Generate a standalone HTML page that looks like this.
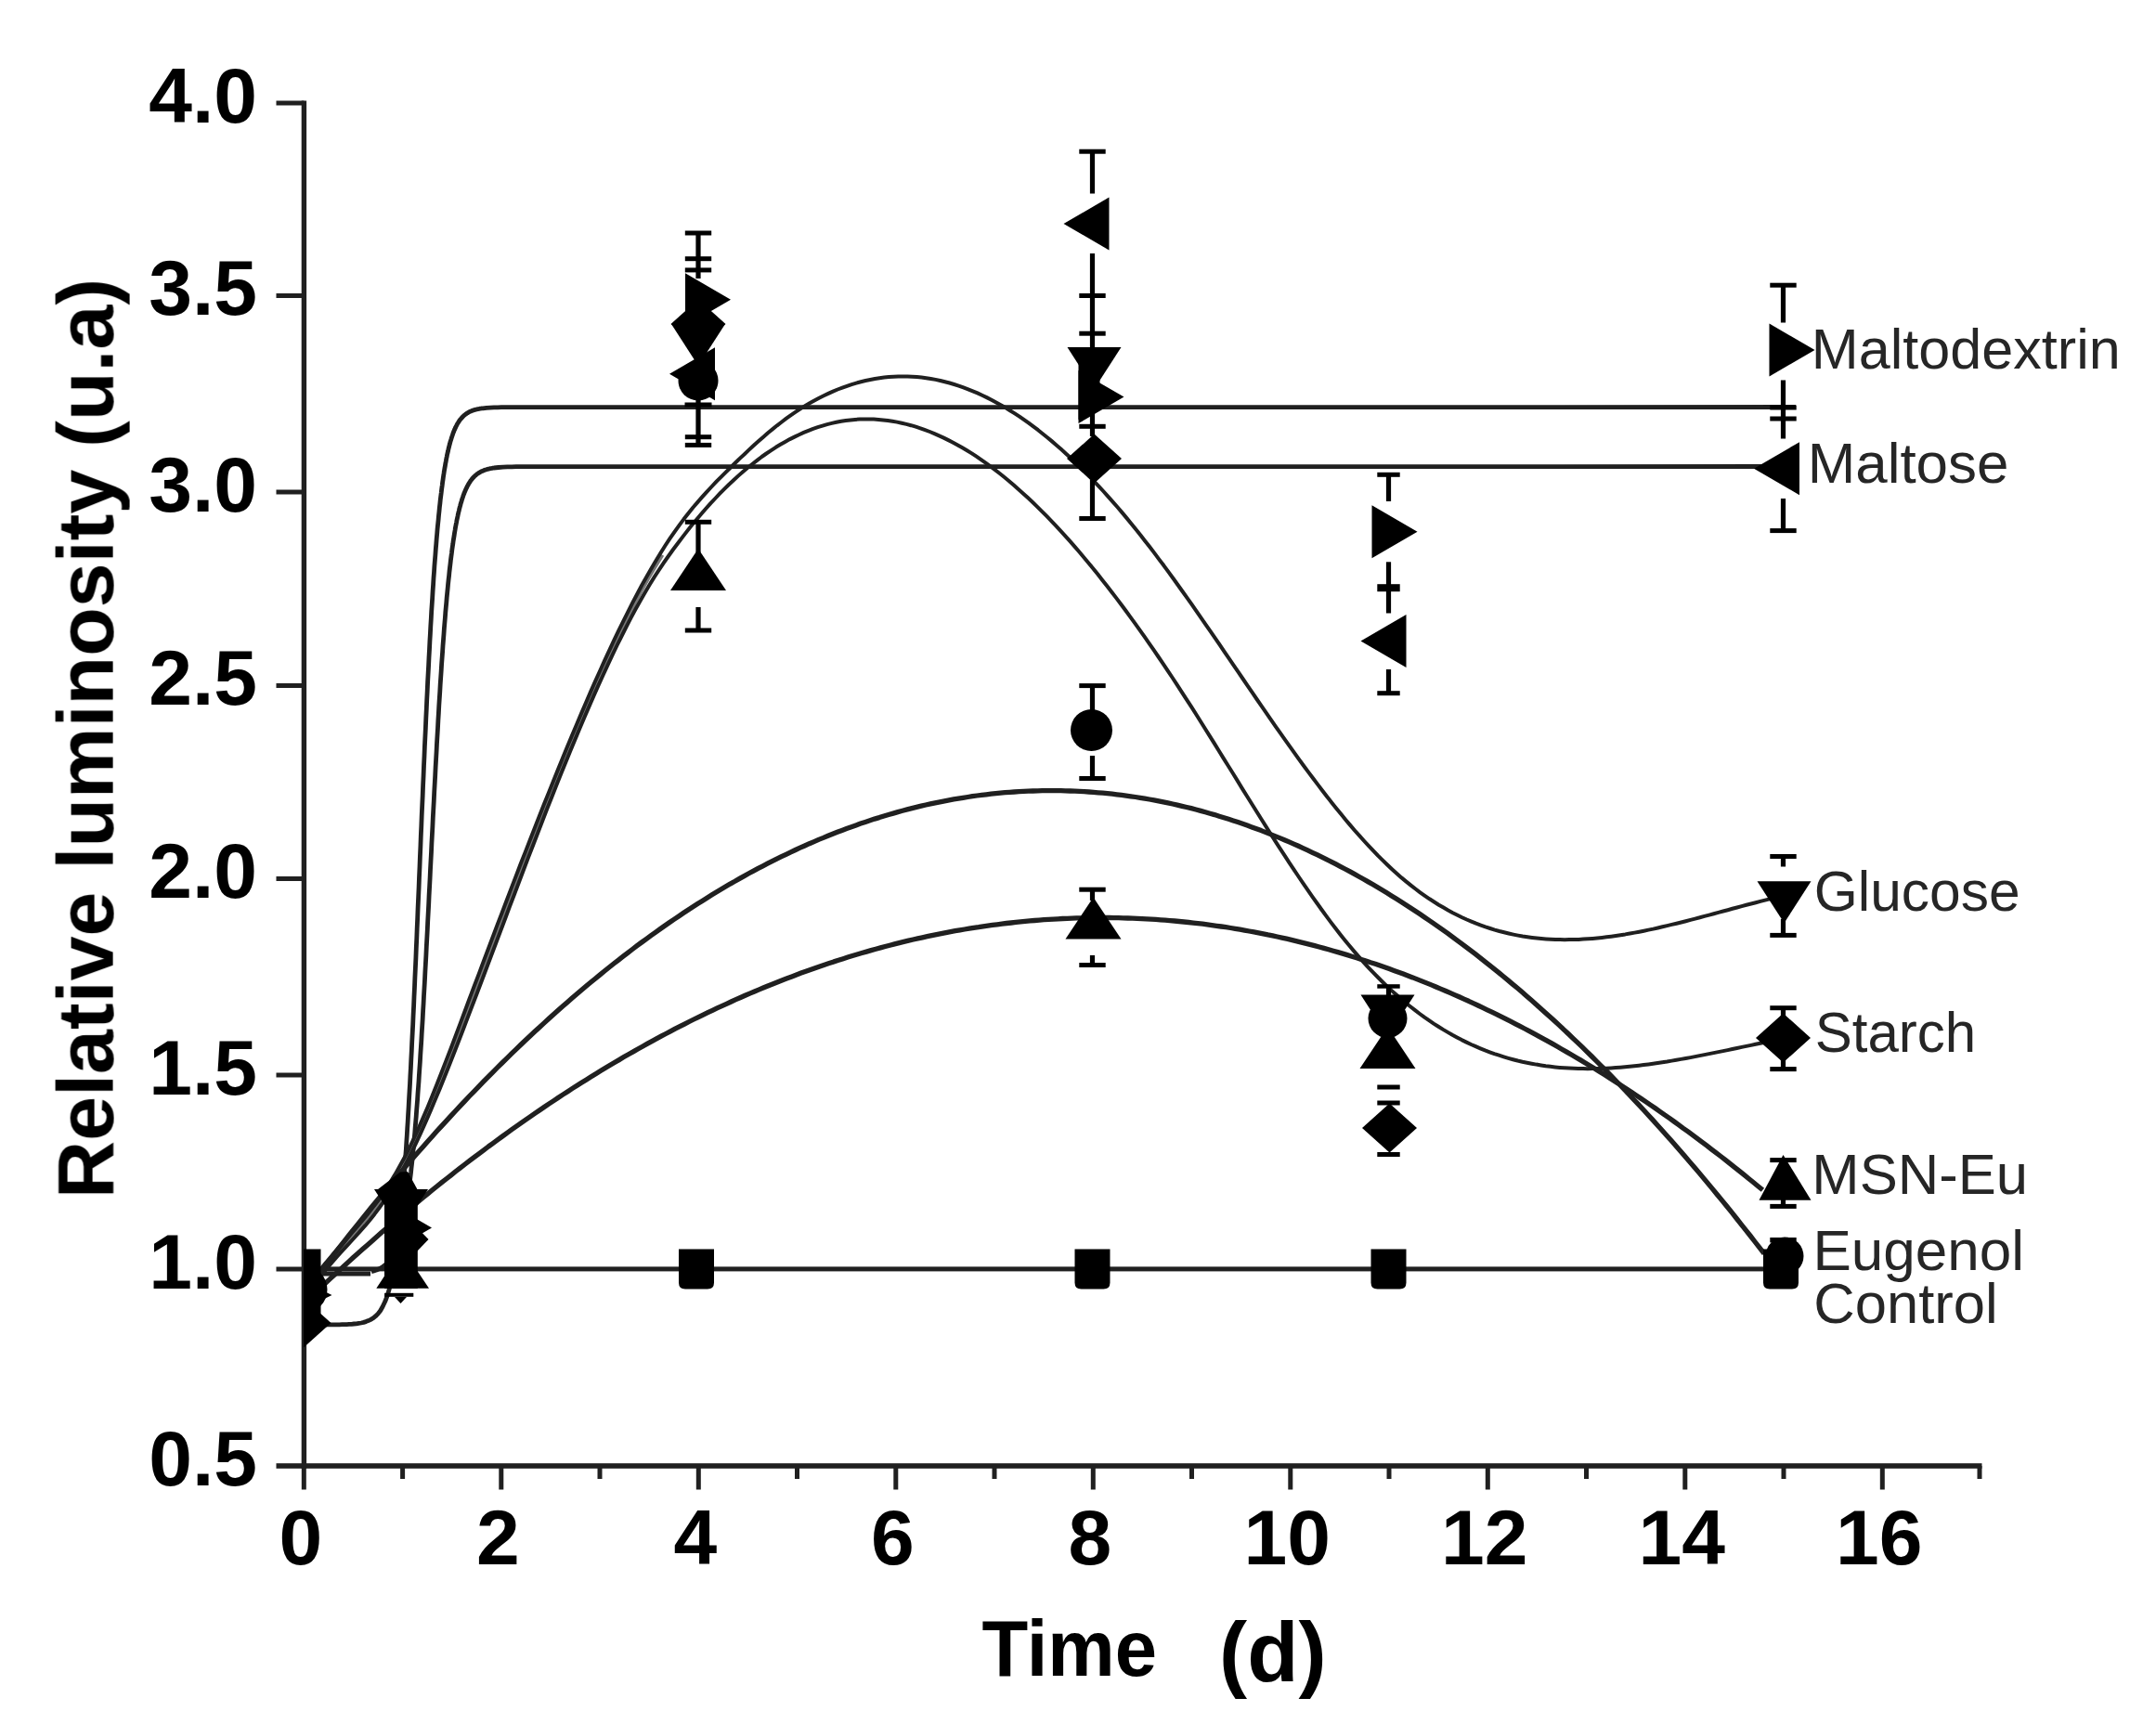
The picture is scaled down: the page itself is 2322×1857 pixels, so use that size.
<!DOCTYPE html>
<html lang="en">
<head>
<meta charset="utf-8">
<title>Relative luminosity vs time</title>
<style>
html,body{margin:0;padding:0;background:#fff;}
body{width:2322px;height:1857px;overflow:hidden;}
svg{display:block;}
</style>
</head>
<body>
<svg width="2322" height="1857" viewBox="0 0 2322 1857">
<rect width="2322" height="1857" fill="#fff"/>
<defs><filter id="soft" x="0" y="0" width="100%" height="100%" filterUnits="userSpaceOnUse" color-interpolation-filters="sRGB"><feGaussianBlur stdDeviation="0.75"/></filter></defs>
<g filter="url(#soft)">
<g fill="#202020">
<rect x="324.7" y="108.5" width="5.4" height="1473.5"/>
<rect x="297.5" y="1576.2" width="1837" height="5.6"/>
<rect x="297.5" y="108.5" width="30" height="5"/>
<rect x="297.5" y="316" width="30" height="5"/>
<rect x="297.5" y="527.5" width="30" height="5"/>
<rect x="297.5" y="736" width="30" height="5"/>
<rect x="297.5" y="944" width="30" height="5"/>
<rect x="297.5" y="1155.5" width="30" height="5"/>
<rect x="297.5" y="1364.5" width="30" height="5"/>
<rect x="324.8" y="1579" width="5" height="25.5"/>
<rect x="431.1" y="1579" width="5" height="14"/>
<rect x="537.3" y="1579" width="5" height="25.5"/>
<rect x="643.5" y="1579" width="5" height="14"/>
<rect x="749.8" y="1579" width="5" height="25.5"/>
<rect x="856" y="1579" width="5" height="14"/>
<rect x="962.3" y="1579" width="5" height="25.5"/>
<rect x="1068.5" y="1579" width="5" height="14"/>
<rect x="1174.8" y="1579" width="5" height="25.5"/>
<rect x="1281" y="1579" width="5" height="14"/>
<rect x="1387.3" y="1579" width="5" height="25.5"/>
<rect x="1493.5" y="1579" width="5" height="14"/>
<rect x="1599.8" y="1579" width="5" height="25.5"/>
<rect x="1706" y="1579" width="5" height="14"/>
<rect x="1812.3" y="1579" width="5" height="25.5"/>
<rect x="1918.5" y="1579" width="5" height="14"/>
<rect x="2024.8" y="1579" width="5" height="25.5"/>
<rect x="2129.5" y="1579" width="5" height="14"/>
</g>
<g font-family="'Liberation Sans', Arial, Helvetica, sans-serif" font-weight="bold" font-size="84" fill="#000">
<text x="277" y="131.5" text-anchor="end">4.0</text>
<text x="277" y="339" text-anchor="end">3.5</text>
<text x="277" y="550.5" text-anchor="end">3.0</text>
<text x="277" y="759" text-anchor="end">2.5</text>
<text x="277" y="967" text-anchor="end">2.0</text>
<text x="277" y="1178.5" text-anchor="end">1.5</text>
<text x="277" y="1387.5" text-anchor="end">1.0</text>
<text x="277" y="1599.5" text-anchor="end">0.5</text>
<text x="323.8" y="1685" text-anchor="middle">0</text>
<text x="536.3" y="1685" text-anchor="middle">2</text>
<text x="748.8" y="1685" text-anchor="middle">4</text>
<text x="961.3" y="1685" text-anchor="middle">6</text>
<text x="1173.8" y="1685" text-anchor="middle">8</text>
<text x="1386.3" y="1685" text-anchor="middle">10</text>
<text x="1598.8" y="1685" text-anchor="middle">12</text>
<text x="1811.3" y="1685" text-anchor="middle">14</text>
<text x="2023.8" y="1685" text-anchor="middle">16</text>
</g>
<g font-family="'Liberation Sans', Arial, Helvetica, sans-serif">
<text transform="translate(1057.44 1804.80) scale(0.9577 1)" font-size="85" font-weight="bold" fill="#000">Time</text>
<text transform="translate(1313.12 1810.50) scale(0.9949 1)" font-size="91" font-weight="bold" fill="#000">(d)</text>
<text transform="translate(121.60 1291.13) rotate(-90) scale(1.0140 1)" font-size="85" font-weight="bold" fill="#000">Relative luminosity (u.a)</text>
<text transform="translate(1950.75 396.60) scale(1.0108 1)" font-size="60.5" font-weight="normal" fill="#262626">Maltodextrin</text>
<text transform="translate(1946.68 520.20) scale(1.0233 1)" font-size="60.5" font-weight="normal" fill="#262626">Maltose</text>
<text transform="translate(1953.70 980.60) scale(1.0002 1)" font-size="60.5" font-weight="normal" fill="#262626">Glucose</text>
<text transform="translate(1954.67 1132.60) scale(0.9926 1)" font-size="60.5" font-weight="normal" fill="#262626">Starch</text>
<text transform="translate(1951.31 1285.50) scale(1.0187 1)" font-size="60.5" font-weight="normal" fill="#262626">MSN-Eu</text>
<text transform="translate(1952.47 1368.30) scale(1.0254 1)" font-size="60.5" font-weight="normal" fill="#262626">Eugenol</text>
<text transform="translate(1953.35 1424.70) scale(1.0176 1)" font-size="60.5" font-weight="normal" fill="#262626">Control</text>
</g>
<g>
<rect x="327" y="1364.4" width="1594" height="5" fill="#202020"/>
<rect x="345" y="1369.5" width="54" height="5" fill="#202020"/>
<path d="M345 1427 L347.6 1427 L350.2 1427 L352.8 1426.9 L355.3 1426.9 L357.9 1426.9 L360.5 1426.9 L363.1 1426.8 L365.7 1426.8 L368.3 1426.7 L370.9 1426.7 L373.4 1426.6 L376 1426.4 L378.6 1426.3 L381.2 1426 L383.8 1425.8 L386.4 1425.4 L389 1425 L391.6 1424.4 L394.1 1423.6 L396.7 1422.6 L399.3 1421.4 L401.9 1419.8 L404.5 1417.7 L407.1 1415.1 L409.7 1411.7 L412.2 1407.3 L414.8 1401.8 L417.4 1394.8 L420 1385.9 L420 1385.9 L420.5 1384.1 L420.9 1382.2 L421.4 1380.3 L421.8 1378.2 L422.3 1376.1 L422.7 1373.9 L423.2 1371.6 L423.7 1369.2 L424.1 1366.7 L424.6 1364.1 L425 1361.5 L425.5 1358.7 L425.9 1355.8 L426.4 1352.7 L426.8 1349.6 L427.3 1346.4 L427.8 1343 L428.2 1339.5 L428.7 1335.8 L429.1 1332.1 L429.6 1328.1 L430 1324.1 L430.5 1319.9 L431 1315.5 L431.4 1311 L431.9 1306.4 L432.3 1301.5 L432.8 1296.6 L433.2 1291.4 L433.7 1286.1 L434.2 1280.6 L434.6 1274.9 L435.1 1269.1 L435.5 1263 L436 1256.8 L436.4 1250.4 L436.9 1243.8 L437.4 1237.1 L437.8 1230.1 L438.3 1222.9 L438.7 1215.6 L439.2 1208.1 L439.6 1200.3 L440.1 1192.4 L440.5 1184.3 L441 1176 L441.5 1167.6 L441.9 1158.9 L442.4 1150.1 L442.8 1141.1 L443.3 1131.9 L443.7 1122.5 L444.2 1113 L444.7 1103.3 L445.1 1093.5 L445.6 1083.6 L446 1073.5 L446.5 1063.2 L446.9 1052.9 L447.4 1042.4 L447.9 1031.8 L448.3 1021.2 L448.8 1010.4 L449.2 999.6 L449.7 988.7 L450.1 977.8 L450.6 966.8 L451.1 955.7 L451.5 944.7 L452 933.6 L452.4 922.6 L452.9 911.5 L453.3 900.5 L453.8 889.5 L454.2 878.5 L454.7 867.6 L455.2 856.8 L455.6 846 L456.1 835.4 L456.5 824.8 L457 814.3 L457.4 803.9 L457.9 793.7 L458.4 783.6 L458.8 773.6 L459.3 763.7 L459.7 754 L460.2 744.5 L460.6 735.1 L461.1 725.9 L461.6 716.9 L462 708 L462.5 699.3 L462.9 690.8 L463.4 682.5 L463.8 674.4 L464.3 666.4 L464.7 658.7 L465.2 651.1 L465.7 643.7 L466.1 636.5 L466.6 629.5 L467 622.7 L467.5 616.1 L467.9 609.7 L468.4 603.4 L468.9 597.4 L469.3 591.5 L469.8 585.8 L470.2 580.3 L470.7 574.9 L471.1 569.8 L471.6 564.7 L472.1 559.9 L472.5 555.2 L473 550.7 L473.4 546.3 L473.9 542.1 L474.3 538 L474.8 534.1 L475.3 530.3 L475.7 526.6 L476.2 523.1 L476.6 519.7 L477.1 516.4 L477.5 513.3 L478 510.2 L478.4 507.3 L478.9 504.5 L479.4 501.8 L479.8 499.2 L480.3 496.7 L480.7 494.3 L481.2 492 L481.6 489.7 L482.1 487.6 L482.6 485.6 L483 483.6 L483.5 481.7 L483.9 479.9 L484.4 478.2 L484.8 476.5 L485.3 474.9 L485.8 473.4 L486.2 471.9 L486.7 470.5 L487.1 469.1 L487.6 467.8 L488 466.6 L488.5 465.4 L488.9 464.2 L489.4 463.1 L489.9 462.1 L490.3 461.1 L490.8 460.1 L491.2 459.2 L491.7 458.3 L492.1 457.4 L492.6 456.6 L493.1 455.8 L493.5 455.1 L494 454.4 L494.4 453.7 L494.9 453 L495.3 452.4 L495.8 451.8 L496.3 451.2 L496.7 450.7 L497.2 450.2 L497.6 449.7 L498.1 449.2 L498.5 448.7 L499 448.3 L499.5 447.8 L499.9 447.4 L500.4 447 L500.8 446.7 L501.3 446.3 L501.7 446 L502.2 445.7 L502.6 445.3 L503.1 445 L503.6 444.8 L504 444.5 L504.5 444.2 L504.9 444 L505.4 443.7 L505.8 443.5 L506.3 443.3 L506.8 443.1 L507.2 442.9 L507.7 442.7 L508.1 442.5 L508.6 442.3 L509 442.2 L509.5 442 L510 441.9 L510.4 441.7 L510.9 441.6 L511.3 441.4 L511.8 441.3 L512.2 441.2 L512.7 441.1 L513.2 441 L513.6 440.8 L514.1 440.7 L514.5 440.6 L515 440.6 L515.4 440.5 L515.9 440.4 L516.3 440.3 L516.8 440.2 L517.3 440.1 L517.7 440.1 L518.2 440 L518.6 439.9 L519.1 439.9 L519.5 439.8 L520 439.8 L520 439.8 L524 439.3 L528 439.1 L532 438.9 L536 438.8 L540 438.7 L1934 438.5" fill="none" stroke="#202020" stroke-width="4.8" stroke-linejoin="round" stroke-linecap="butt"/>
<path d="M400 1369.6 L402.7 1368.9 L405.5 1368 L408.2 1366.8 L410.9 1365.4 L413.6 1363.5 L416.4 1361.1 L419.1 1358 L421.8 1354 L424.5 1349 L427.3 1342.7 L430 1334.6 L430 1334.6 L430.5 1333 L430.9 1331.4 L431.4 1329.7 L431.9 1327.9 L432.3 1326.1 L432.8 1324.1 L433.3 1322.2 L433.7 1320.1 L434.2 1317.9 L434.7 1315.7 L435.1 1313.4 L435.6 1311 L436.1 1308.5 L436.5 1305.9 L437 1303.2 L437.5 1300.5 L437.9 1297.6 L438.4 1294.6 L438.8 1291.5 L439.3 1288.3 L439.8 1285 L440.2 1281.5 L440.7 1278 L441.2 1274.3 L441.6 1270.5 L442.1 1266.6 L442.6 1262.5 L443 1258.3 L443.5 1254 L444 1249.5 L444.4 1244.9 L444.9 1240.2 L445.4 1235.3 L445.8 1230.2 L446.3 1225 L446.8 1219.7 L447.2 1214.2 L447.7 1208.5 L448.2 1202.7 L448.6 1196.8 L449.1 1190.7 L449.6 1184.4 L450 1178 L450.5 1171.4 L451 1164.7 L451.4 1157.8 L451.9 1150.7 L452.4 1143.6 L452.8 1136.2 L453.3 1128.7 L453.8 1121.1 L454.2 1113.3 L454.7 1105.4 L455.2 1097.4 L455.6 1089.2 L456.1 1080.9 L456.5 1072.5 L457 1064 L457.5 1055.4 L457.9 1046.7 L458.4 1037.8 L458.9 1028.9 L459.3 1019.9 L459.8 1010.8 L460.3 1001.7 L460.7 992.5 L461.2 983.3 L461.7 974 L462.1 964.6 L462.6 955.3 L463.1 945.9 L463.5 936.6 L464 927.2 L464.5 917.8 L464.9 908.5 L465.4 899.2 L465.9 889.9 L466.3 880.6 L466.8 871.4 L467.3 862.3 L467.7 853.3 L468.2 844.3 L468.7 835.4 L469.1 826.6 L469.6 817.8 L470.1 809.2 L470.5 800.7 L471 792.3 L471.5 784.1 L471.9 775.9 L472.4 767.9 L472.8 760 L473.3 752.3 L473.8 744.7 L474.2 737.2 L474.7 729.9 L475.2 722.7 L475.6 715.7 L476.1 708.8 L476.6 702.1 L477 695.6 L477.5 689.2 L478 682.9 L478.4 676.8 L478.9 670.9 L479.4 665.1 L479.8 659.5 L480.3 654 L480.8 648.7 L481.2 643.5 L481.7 638.5 L482.2 633.6 L482.6 628.9 L483.1 624.3 L483.6 619.9 L484 615.6 L484.5 611.4 L485 607.3 L485.4 603.4 L485.9 599.6 L486.4 596 L486.8 592.5 L487.3 589 L487.8 585.7 L488.2 582.5 L488.7 579.5 L489.2 576.5 L489.6 573.6 L490.1 570.9 L490.5 568.2 L491 565.6 L491.5 563.1 L491.9 560.8 L492.4 558.5 L492.9 556.2 L493.3 554.1 L493.8 552 L494.3 550.1 L494.7 548.2 L495.2 546.3 L495.7 544.6 L496.1 542.9 L496.6 541.3 L497.1 539.7 L497.5 538.2 L498 536.7 L498.5 535.3 L498.9 534 L499.4 532.7 L499.9 531.5 L500.3 530.3 L500.8 529.2 L501.3 528.1 L501.7 527 L502.2 526 L502.7 525.1 L503.1 524.1 L503.6 523.2 L504.1 522.4 L504.5 521.6 L505 520.8 L505.5 520 L505.9 519.3 L506.4 518.6 L506.8 517.9 L507.3 517.3 L507.8 516.7 L508.2 516.1 L508.7 515.5 L509.2 515 L509.6 514.5 L510.1 514 L510.6 513.5 L511 513 L511.5 512.6 L512 512.2 L512.4 511.8 L512.9 511.4 L513.4 511 L513.8 510.6 L514.3 510.3 L514.8 510 L515.2 509.7 L515.7 509.4 L516.2 509.1 L516.6 508.8 L517.1 508.5 L517.6 508.3 L518 508 L518.5 507.8 L519 507.6 L519.4 507.4 L519.9 507.2 L520.4 507 L520.8 506.8 L521.3 506.6 L521.8 506.4 L522.2 506.3 L522.7 506.1 L523.2 506 L523.6 505.8 L524.1 505.7 L524.5 505.5 L525 505.4 L525.5 505.3 L525.9 505.2 L526.4 505.1 L526.9 505 L527.3 504.8 L527.8 504.7 L528.3 504.7 L528.7 504.6 L529.2 504.5 L529.7 504.4 L530.1 504.3 L530.6 504.2 L531.1 504.2 L531.5 504.1 L532 504 L532 504 L536.8 503.5 L541.6 503.1 L546.4 502.9 L551.2 502.8 L556 502.7 L1900 502.5" fill="none" stroke="#202020" stroke-width="4.8" stroke-linejoin="round" stroke-linecap="butt"/>
<path d="M364.3 1348.7 L369.4 1342.8 L374.6 1336.9 L379.7 1331.1 L384.9 1325.1 L390 1319.1 L395.1 1312.9 L400.3 1306.4 L405.4 1299.8 L410.5 1292.7 L415.7 1285.3 L420.8 1277.5 L425.9 1269.2 L431.1 1260.4 L436.2 1251 L441.4 1241 L446.5 1230.4 L451.6 1219.2 L456.8 1207.6 L461.9 1195.5 L467.1 1183 L472.2 1170.2 L477.3 1157.2 L482.5 1143.9 L487.6 1130.4 L492.7 1116.8 L497.9 1103.2 L503 1089.5 L508.1 1075.9 L513.3 1062.2 L518.4 1048.6 L523.6 1035.1 L528.7 1021.5 L533.8 1008 L539 994.6 L544.1 981.1 L549.2 967.8 L554.4 954.4 L559.5 941.2 L564.7 928 L569.8 914.8 L574.9 901.7 L580.1 888.7 L585.2 875.7 L590.3 862.8 L595.5 850 L600.6 837.3 L605.8 824.6 L610.9 812.1 L616 799.6 L621.2 787.3 L626.3 775 L631.5 762.9 L636.6 750.9 L641.7 739.1 L646.9 727.5 L652 716 L657.1 704.7 L662.3 693.7 L667.4 682.8 L672.5 672.3 L677.7 661.9 L682.8 651.8 L688 642.1 L693.1 632.6 L698.2 623.4 L703.4 614.5 L708.5 606 L713.6 597.9" fill="none" stroke="#777" stroke-width="3.6" stroke-linejoin="round" stroke-linecap="butt"/>
<path d="M340 1374.2 L345 1367.6 L350 1361.3 L355.1 1355.2 L360.1 1349.3 L365.1 1343.6 L370.1 1337.9 L375.1 1332.2 L380.2 1326.5 L385.2 1320.7 L390.2 1314.8 L395.2 1308.7 L400.2 1302.3 L405.2 1295.7 L410.3 1288.7 L415.3 1281.4 L420.3 1273.6 L425.3 1265.4 L430.3 1256.6 L435.4 1247.3 L440.4 1237.5 L445.4 1227 L450.4 1216.1 L455.4 1204.6 L460.5 1192.8 L465.5 1180.6 L470.5 1168.1 L475.5 1155.3 L480.5 1142.4 L485.6 1129.2 L490.6 1115.9 L495.6 1102.6 L500.6 1089.2 L505.6 1075.8 L510.6 1062.5 L515.7 1049.1 L520.7 1035.8 L525.7 1022.5 L530.7 1009.2 L535.7 995.9 L540.8 982.7 L545.8 969.5 L550.8 956.4 L555.8 943.4 L560.8 930.3 L565.9 917.4 L570.9 904.5 L575.9 891.7 L580.9 878.9 L585.9 866.3 L591 853.7 L596 841.2 L601 828.8 L606 816.5 L611 804.3 L616 792.2 L621.1 780.2 L626.1 768.4 L631.1 756.7 L636.1 745.1 L641.1 733.7 L646.2 722.5 L651.2 711.4 L656.2 700.6 L661.2 689.9 L666.2 679.4 L671.3 669.1 L676.3 659.1 L681.3 649.2 L686.3 639.7 L691.3 630.3 L696.4 621.3 L701.4 612.5 L706.4 604 L711.4 595.7 L716.4 587.8 L721.4 580.2 L726.5 572.8 L731.5 565.8 L736.5 559.1 L741.5 552.7 L746.5 546.5 L751.6 540.6 L756.6 534.9 L761.6 529.3 L766.6 524 L771.6 518.7 L776.7 513.6 L781.7 508.6 L786.7 503.7 L791.7 498.8 L796.7 493.9 L801.8 489.2 L806.8 484.4 L811.8 479.8 L816.8 475.3 L821.8 470.9 L826.8 466.5 L831.9 462.4 L836.9 458.3 L841.9 454.5 L846.9 450.7 L851.9 447.1 L857 443.7 L862 440.4 L867 437.3 L872 434.3 L877 431.5 L882.1 428.8 L887.1 426.3 L892.1 423.9 L897.1 421.6 L902.1 419.5 L907.2 417.6 L912.2 415.8 L917.2 414.1 L922.2 412.6 L927.2 411.2 L932.2 410 L937.3 409 L942.3 408 L947.3 407.2 L952.3 406.6 L957.3 406.1 L962.4 405.7 L967.4 405.5 L972.4 405.5 L977.4 405.5 L982.4 405.7 L987.5 406.1 L992.5 406.6 L997.5 407.2 L1002.5 408 L1007.5 408.9 L1012.6 410 L1017.6 411.2 L1022.6 412.5 L1027.6 414 L1032.6 415.6 L1037.6 417.4 L1042.7 419.3 L1047.7 421.3 L1052.7 423.4 L1057.7 425.7 L1062.7 428.1 L1067.8 430.7 L1072.8 433.4 L1077.8 436.2 L1082.8 439.1 L1087.8 442.2 L1092.9 445.4 L1097.9 448.7 L1102.9 452.2 L1107.9 455.7 L1112.9 459.4 L1118 463.2 L1123 467.2 L1128 471.2 L1133 475.4 L1138 479.7 L1143 484.1 L1148.1 488.7 L1153.1 493.3 L1158.1 498.1 L1163.1 502.9 L1168.1 507.9 L1173.2 513 L1178.2 518.3 L1183.2 523.6 L1188.2 529 L1193.2 534.6 L1198.3 540.3 L1203.3 546 L1208.3 551.9 L1213.3 557.9 L1218.3 564 L1223.4 570.2 L1228.4 576.5 L1233.4 582.9 L1238.4 589.3 L1243.4 595.9 L1248.4 602.6 L1253.5 609.3 L1258.5 616.2 L1263.5 623 L1268.5 630 L1273.5 637 L1278.6 644.1 L1283.6 651.2 L1288.6 658.4 L1293.6 665.6 L1298.6 672.8 L1303.7 680.1 L1308.7 687.4 L1313.7 694.7 L1318.7 702.1 L1323.7 709.4 L1328.8 716.8 L1333.8 724.2 L1338.8 731.5 L1343.8 738.9 L1348.8 746.2 L1353.8 753.5 L1358.9 760.8 L1363.9 768.1 L1368.9 775.4 L1373.9 782.6 L1378.9 789.7 L1384 796.8 L1389 803.9 L1394 810.9 L1399 817.9 L1404 824.7 L1409.1 831.6 L1414.1 838.3 L1419.1 844.9 L1424.1 851.5 L1429.1 858 L1434.2 864.4 L1439.2 870.7 L1444.2 876.8 L1449.2 882.9 L1454.2 888.9 L1459.2 894.7 L1464.3 900.4 L1469.3 906 L1474.3 911.4 L1479.3 916.7 L1484.3 921.9 L1489.4 926.9 L1494.4 931.8 L1499.4 936.5 L1504.4 941 L1509.4 945.4 L1514.5 949.6 L1519.5 953.6 L1524.5 957.5 L1529.5 961.3 L1534.5 964.8 L1539.6 968.3 L1544.6 971.5 L1549.6 974.7 L1554.6 977.6 L1559.6 980.5 L1564.6 983.2 L1569.7 985.7 L1574.7 988.2 L1579.7 990.5 L1584.7 992.6 L1589.7 994.7 L1594.8 996.6 L1599.8 998.4 L1604.8 1000 L1609.8 1001.6 L1614.8 1003 L1619.9 1004.3 L1624.9 1005.5 L1629.9 1006.6 L1634.9 1007.6 L1639.9 1008.5 L1645 1009.3 L1650 1010 L1655 1010.6 L1660 1011.1 L1665 1011.5 L1670 1011.8 L1675.1 1012 L1680.1 1012.1 L1685.1 1012.2 L1690.1 1012.1 L1695.1 1012 L1700.2 1011.9 L1705.2 1011.6 L1710.2 1011.3 L1715.2 1010.9 L1720.2 1010.4 L1725.3 1009.9 L1730.3 1009.3 L1735.3 1008.7 L1740.3 1008 L1745.3 1007.2 L1750.4 1006.4 L1755.4 1005.5 L1760.4 1004.6 L1765.4 1003.7 L1770.4 1002.7 L1775.4 1001.6 L1780.5 1000.6 L1785.5 999.5 L1790.5 998.3 L1795.5 997.1 L1800.5 995.9 L1805.6 994.7 L1810.6 993.5 L1815.6 992.2 L1820.6 990.9 L1825.6 989.6 L1830.7 988.3 L1835.7 986.9 L1840.7 985.6 L1845.7 984.3 L1850.7 982.9 L1855.8 981.5 L1860.8 980.2 L1865.8 978.8 L1870.8 977.5 L1875.8 976.1 L1880.8 974.8 L1885.9 973.5 L1890.9 972.2 L1895.9 970.9 L1900.9 969.6 L1905.9 968.4 L1911 967.2 L1916 966 L1921 964.8" fill="none" stroke="#202020" stroke-width="4.0" stroke-linejoin="round" stroke-linecap="butt"/>
<path d="M343 1377.9 L348 1371.3 L353.1 1365.1 L358.1 1359.2 L363.1 1353.4 L368.1 1347.9 L373.2 1342.4 L378.2 1337 L383.2 1331.5 L388.2 1325.9 L393.3 1320.2 L398.3 1314.2 L403.3 1307.9 L408.3 1301.2 L413.4 1294.1 L418.4 1286.5 L423.4 1278.4 L428.4 1269.7 L433.5 1260.5 L438.5 1250.9 L443.5 1240.8 L448.5 1230.3 L453.6 1219.4 L458.6 1208.1 L463.6 1196.6 L468.6 1184.7 L473.7 1172.6 L478.7 1160.2 L483.7 1147.7 L488.7 1134.9 L493.8 1122 L498.8 1109 L503.8 1095.9 L508.8 1082.8 L513.9 1069.5 L518.9 1056.3 L523.9 1043 L528.9 1029.7 L534 1016.3 L539 1003 L544 989.7 L549 976.3 L554.1 963 L559.1 949.8 L564.1 936.5 L569.1 923.3 L574.2 910.2 L579.2 897.2 L584.2 884.2 L589.2 871.3 L594.3 858.5 L599.3 845.8 L604.3 833.3 L609.4 820.8 L614.4 808.5 L619.4 796.4 L624.4 784.4 L629.5 772.5 L634.5 760.9 L639.5 749.4 L644.5 738.1 L649.6 727 L654.6 716.1 L659.6 705.5 L664.6 695 L669.7 684.8 L674.7 674.9 L679.7 665.2 L684.7 655.8 L689.8 646.7 L694.8 637.9 L699.8 629.5 L704.8 621.4 L709.9 613.7 L714.9 606.2 L719.9 599 L724.9 592 L730 585.2 L735 578.6 L740 572.1 L745 565.8 L750.1 559.7 L755.1 553.8 L760.1 548 L765.1 542.4 L770.2 537 L775.2 531.7 L780.2 526.6 L785.2 521.7 L790.3 517 L795.3 512.4 L800.3 508 L805.3 503.7 L810.4 499.7 L815.4 495.8 L820.4 492 L825.4 488.5 L830.5 485.1 L835.5 481.8 L840.5 478.8 L845.5 475.9 L850.6 473.1 L855.6 470.6 L860.6 468.2 L865.6 465.9 L870.7 463.8 L875.7 461.9 L880.7 460.2 L885.8 458.6 L890.8 457.1 L895.8 455.9 L900.8 454.8 L905.9 453.8 L910.9 453 L915.9 452.4 L920.9 451.9 L926 451.6 L931 451.5 L936 451.5 L941 451.6 L946.1 451.9 L951.1 452.4 L956.1 453 L961.1 453.7 L966.2 454.6 L971.2 455.7 L976.2 456.9 L981.2 458.2 L986.3 459.7 L991.3 461.3 L996.3 463.1 L1001.3 465 L1006.4 467.1 L1011.4 469.3 L1016.4 471.6 L1021.4 474.1 L1026.5 476.7 L1031.5 479.4 L1036.5 482.3 L1041.5 485.3 L1046.6 488.4 L1051.6 491.7 L1056.6 495.1 L1061.6 498.6 L1066.7 502.3 L1071.7 506.1 L1076.7 510 L1081.7 514 L1086.8 518.2 L1091.8 522.5 L1096.8 526.9 L1101.8 531.4 L1106.9 536 L1111.9 540.7 L1116.9 545.6 L1121.9 550.6 L1127 555.7 L1132 560.9 L1137 566.2 L1142.1 571.6 L1147.1 577.1 L1152.1 582.7 L1157.1 588.4 L1162.2 594.3 L1167.2 600.2 L1172.2 606.2 L1177.2 612.3 L1182.3 618.5 L1187.3 624.9 L1192.3 631.3 L1197.3 637.8 L1202.4 644.4 L1207.4 651 L1212.4 657.8 L1217.4 664.6 L1222.5 671.6 L1227.5 678.6 L1232.5 685.7 L1237.5 692.9 L1242.6 700.2 L1247.6 707.5 L1252.6 714.9 L1257.6 722.4 L1262.7 730 L1267.7 737.6 L1272.7 745.3 L1277.7 753.1 L1282.8 760.9 L1287.8 768.8 L1292.8 776.8 L1297.8 784.8 L1302.9 792.8 L1307.9 800.9 L1312.9 809 L1317.9 817.1 L1323 825.2 L1328 833.3 L1333 841.4 L1338 849.6 L1343.1 857.7 L1348.1 865.7 L1353.1 873.8 L1358.1 881.8 L1363.2 889.8 L1368.2 897.7 L1373.2 905.6 L1378.2 913.4 L1383.3 921.2 L1388.3 928.8 L1393.3 936.4 L1398.4 944 L1403.4 951.4 L1408.4 958.7 L1413.4 965.9 L1418.5 973 L1423.5 980 L1428.5 986.9 L1433.5 993.6 L1438.6 1000.2 L1443.6 1006.7 L1448.6 1013 L1453.6 1019.1 L1458.7 1025.1 L1463.7 1030.9 L1468.7 1036.6 L1473.7 1042.1 L1478.8 1047.4 L1483.8 1052.5 L1488.8 1057.5 L1493.8 1062.4 L1498.9 1067.1 L1503.9 1071.6 L1508.9 1076 L1513.9 1080.2 L1519 1084.3 L1524 1088.2 L1529 1092 L1534 1095.7 L1539.1 1099.2 L1544.1 1102.6 L1549.1 1105.8 L1554.1 1108.9 L1559.2 1111.9 L1564.2 1114.8 L1569.2 1117.5 L1574.2 1120.1 L1579.3 1122.6 L1584.3 1125 L1589.3 1127.2 L1594.3 1129.3 L1599.4 1131.4 L1604.4 1133.3 L1609.4 1135.1 L1614.4 1136.7 L1619.5 1138.3 L1624.5 1139.8 L1629.5 1141.2 L1634.5 1142.5 L1639.6 1143.7 L1644.6 1144.7 L1649.6 1145.7 L1654.6 1146.6 L1659.7 1147.4 L1664.7 1148.2 L1669.7 1148.8 L1674.8 1149.4 L1679.8 1149.9 L1684.8 1150.3 L1689.8 1150.6 L1694.9 1150.8 L1699.9 1151 L1704.9 1151.1 L1709.9 1151.2 L1715 1151.1 L1720 1151.1 L1725 1150.9 L1730 1150.7 L1735.1 1150.4 L1740.1 1150.1 L1745.1 1149.7 L1750.1 1149.3 L1755.2 1148.8 L1760.2 1148.3 L1765.2 1147.7 L1770.2 1147.1 L1775.3 1146.5 L1780.3 1145.8 L1785.3 1145 L1790.3 1144.3 L1795.4 1143.5 L1800.4 1142.6 L1805.4 1141.8 L1810.4 1140.9 L1815.5 1140 L1820.5 1139.1 L1825.5 1138.1 L1830.5 1137.1 L1835.6 1136.1 L1840.6 1135.1 L1845.6 1134.1 L1850.6 1133.1 L1855.7 1132.1 L1860.7 1131.1 L1865.7 1130 L1870.7 1129 L1875.8 1127.9 L1880.8 1126.9 L1885.8 1125.9 L1890.8 1124.8 L1895.9 1123.8 L1900.9 1122.8 L1905.9 1121.8 L1910.9 1120.8 L1916 1119.9 L1921 1118.9" fill="none" stroke="#202020" stroke-width="4.0" stroke-linejoin="round" stroke-linecap="butt"/>
<path d="M335 1383.5 L340 1376.8 L345 1370.2 L350 1363.6 L355.1 1357.1 L360.1 1350.6 L365.1 1344.2 L370.1 1337.8 L375.1 1331.5 L380.1 1325.1 L385.2 1318.9 L390.2 1312.6 L395.2 1306.4 L400.2 1300.3 L405.2 1294.2 L410.2 1288.1 L415.3 1282.1 L420.3 1276.1 L425.3 1270.2 L430.3 1264.3 L435.3 1258.4 L440.3 1252.6 L445.4 1246.8 L450.4 1241.1 L455.4 1235.4 L460.4 1229.8 L465.4 1224.2 L470.4 1218.6 L475.4 1213.1 L480.5 1207.6 L485.5 1202.1 L490.5 1196.7 L495.5 1191.4 L500.5 1186.1 L505.5 1180.8 L510.6 1175.6 L515.6 1170.4 L520.6 1165.2 L525.6 1160.1 L530.6 1155.1 L535.6 1150 L540.7 1145 L545.7 1140.1 L550.7 1135.2 L555.7 1130.4 L560.7 1125.5 L565.7 1120.8 L570.8 1116 L575.8 1111.3 L580.8 1106.7 L585.8 1102.1 L590.8 1097.5 L595.8 1093 L600.8 1088.5 L605.9 1084.1 L610.9 1079.7 L615.9 1075.3 L620.9 1071 L625.9 1066.7 L630.9 1062.5 L636 1058.3 L641 1054.2 L646 1050.1 L651 1046 L656 1042 L661 1038 L666.1 1034.1 L671.1 1030.2 L676.1 1026.3 L681.1 1022.5 L686.1 1018.7 L691.1 1015 L696.2 1011.3 L701.2 1007.7 L706.2 1004.1 L711.2 1000.5 L716.2 997 L721.2 993.5 L726.2 990.1 L731.3 986.7 L736.3 983.3 L741.3 980 L746.3 976.8 L751.3 973.5 L756.3 970.4 L761.4 967.2 L766.4 964.1 L771.4 961.1 L776.4 958.1 L781.4 955.1 L786.4 952.1 L791.5 949.3 L796.5 946.4 L801.5 943.6 L806.5 940.8 L811.5 938.1 L816.5 935.4 L821.6 932.8 L826.6 930.2 L831.6 927.7 L836.6 925.1 L841.6 922.7 L846.6 920.3 L851.7 917.9 L856.7 915.5 L861.7 913.2 L866.7 911 L871.7 908.7 L876.7 906.6 L881.7 904.4 L886.8 902.4 L891.8 900.3 L896.8 898.3 L901.8 896.3 L906.8 894.4 L911.8 892.5 L916.9 890.7 L921.9 888.9 L926.9 887.1 L931.9 885.4 L936.9 883.8 L941.9 882.1 L947 880.6 L952 879 L957 877.5 L962 876.1 L967 874.6 L972 873.3 L977.1 871.9 L982.1 870.6 L987.1 869.4 L992.1 868.2 L997.1 867 L1002.1 865.9 L1007.1 864.8 L1012.2 863.8 L1017.2 862.8 L1022.2 861.9 L1027.2 860.9 L1032.2 860.1 L1037.2 859.3 L1042.3 858.5 L1047.3 857.7 L1052.3 857 L1057.3 856.4 L1062.3 855.8 L1067.3 855.2 L1072.4 854.7 L1077.4 854.2 L1082.4 853.7 L1087.4 853.3 L1092.4 853 L1097.4 852.7 L1102.5 852.4 L1107.5 852.2 L1112.5 852 L1117.5 851.8 L1122.5 851.7 L1127.5 851.6 L1132.5 851.6 L1137.6 851.6 L1142.6 851.7 L1147.6 851.8 L1152.6 852 L1157.6 852.2 L1162.6 852.4 L1167.7 852.7 L1172.7 853 L1177.7 853.4 L1182.7 853.8 L1187.7 854.2 L1192.7 854.7 L1197.8 855.2 L1202.8 855.8 L1207.8 856.4 L1212.8 857.1 L1217.8 857.8 L1222.8 858.5 L1227.9 859.3 L1232.9 860.1 L1237.9 861 L1242.9 861.9 L1247.9 862.9 L1252.9 863.9 L1257.9 864.9 L1263 866 L1268 867.1 L1273 868.3 L1278 869.5 L1283 870.7 L1288 872 L1293.1 873.4 L1298.1 874.8 L1303.1 876.2 L1308.1 877.6 L1313.1 879.2 L1318.1 880.7 L1323.2 882.3 L1328.2 883.9 L1333.2 885.6 L1338.2 887.3 L1343.2 889.1 L1348.2 890.9 L1353.3 892.8 L1358.3 894.6 L1363.3 896.6 L1368.3 898.6 L1373.3 900.6 L1378.3 902.6 L1383.3 904.7 L1388.4 906.9 L1393.4 909.1 L1398.4 911.3 L1403.4 913.6 L1408.4 915.9 L1413.4 918.3 L1418.5 920.7 L1423.5 923.1 L1428.5 925.6 L1433.5 928.1 L1438.5 930.7 L1443.5 933.3 L1448.6 936 L1453.6 938.7 L1458.6 941.4 L1463.6 944.2 L1468.6 947 L1473.6 949.9 L1478.7 952.8 L1483.7 955.8 L1488.7 958.8 L1493.7 961.8 L1498.7 964.9 L1503.7 968 L1508.8 971.2 L1513.8 974.4 L1518.8 977.7 L1523.8 981 L1528.8 984.3 L1533.8 987.7 L1538.8 991.1 L1543.9 994.6 L1548.9 998.1 L1553.9 1001.7 L1558.9 1005.2 L1563.9 1008.9 L1568.9 1012.6 L1574 1016.3 L1579 1020.1 L1584 1023.9 L1589 1027.7 L1594 1031.6 L1599 1035.6 L1604.1 1039.6 L1609.1 1043.6 L1614.1 1047.6 L1619.1 1051.8 L1624.1 1055.9 L1629.1 1060.1 L1634.2 1064.3 L1639.2 1068.6 L1644.2 1073 L1649.2 1077.3 L1654.2 1081.7 L1659.2 1086.2 L1664.2 1090.7 L1669.3 1095.2 L1674.3 1099.8 L1679.3 1104.4 L1684.3 1109.1 L1689.3 1113.8 L1694.3 1118.6 L1699.4 1123.4 L1704.4 1128.2 L1709.4 1133.1 L1714.4 1138 L1719.4 1143 L1724.4 1148 L1729.5 1153 L1734.5 1158.1 L1739.5 1163.3 L1744.5 1168.5 L1749.5 1173.7 L1754.5 1179 L1759.6 1184.3 L1764.6 1189.6 L1769.6 1195 L1774.6 1200.5 L1779.6 1205.9 L1784.6 1211.5 L1789.6 1217 L1794.7 1222.7 L1799.7 1228.3 L1804.7 1234 L1809.7 1239.7 L1814.7 1245.5 L1819.7 1251.4 L1824.8 1257.2 L1829.8 1263.1 L1834.8 1269.1 L1839.8 1275.1 L1844.8 1281.1 L1849.8 1287.2 L1854.9 1293.4 L1859.9 1299.5 L1864.9 1305.7 L1869.9 1312 L1874.9 1318.3 L1879.9 1324.6 L1885 1331 L1890 1337.5 L1895 1343.9 L1900 1350.4" fill="none" stroke="#202020" stroke-width="5.3" stroke-linejoin="round" stroke-linecap="butt"/>
<path d="M335 1396.8 L340 1392 L345.1 1387.2 L350.1 1382.5 L355.1 1377.9 L360.1 1373.2 L365.2 1368.6 L370.2 1364 L375.2 1359.4 L380.2 1354.8 L385.3 1350.3 L390.3 1345.8 L395.3 1341.4 L400.4 1336.9 L405.4 1332.5 L410.4 1328.1 L415.4 1323.8 L420.5 1319.5 L425.5 1315.2 L430.5 1310.9 L435.5 1306.7 L440.6 1302.4 L445.6 1298.2 L450.6 1294.1 L455.6 1290 L460.7 1285.9 L465.7 1281.8 L470.7 1277.7 L475.8 1273.7 L480.8 1269.7 L485.8 1265.8 L490.8 1261.8 L495.9 1257.9 L500.9 1254 L505.9 1250.2 L510.9 1246.3 L516 1242.5 L521 1238.8 L526 1235 L531.1 1231.3 L536.1 1227.6 L541.1 1224 L546.1 1220.3 L551.2 1216.7 L556.2 1213.2 L561.2 1209.6 L566.2 1206.1 L571.3 1202.6 L576.3 1199.1 L581.3 1195.7 L586.4 1192.3 L591.4 1188.9 L596.4 1185.6 L601.4 1182.2 L606.5 1178.9 L611.5 1175.7 L616.5 1172.4 L621.5 1169.2 L626.6 1166 L631.6 1162.9 L636.6 1159.8 L641.6 1156.7 L646.7 1153.6 L651.7 1150.5 L656.7 1147.5 L661.8 1144.5 L666.8 1141.6 L671.8 1138.6 L676.8 1135.7 L681.9 1132.9 L686.9 1130 L691.9 1127.2 L696.9 1124.4 L702 1121.6 L707 1118.9 L712 1116.2 L717.1 1113.5 L722.1 1110.9 L727.1 1108.2 L732.1 1105.7 L737.2 1103.1 L742.2 1100.5 L747.2 1098 L752.2 1095.6 L757.3 1093.1 L762.3 1090.7 L767.3 1088.3 L772.3 1085.9 L777.4 1083.6 L782.4 1081.3 L787.4 1079 L792.5 1076.7 L797.5 1074.5 L802.5 1072.3 L807.5 1070.1 L812.6 1068 L817.6 1065.9 L822.6 1063.8 L827.6 1061.7 L832.7 1059.7 L837.7 1057.7 L842.7 1055.7 L847.8 1053.8 L852.8 1051.9 L857.8 1050 L862.8 1048.1 L867.9 1046.3 L872.9 1044.5 L877.9 1042.7 L882.9 1041 L888 1039.2 L893 1037.6 L898 1035.9 L903.1 1034.3 L908.1 1032.7 L913.1 1031.1 L918.1 1029.5 L923.2 1028 L928.2 1026.5 L933.2 1025.1 L938.2 1023.6 L943.3 1022.2 L948.3 1020.9 L953.3 1019.5 L958.3 1018.2 L963.4 1016.9 L968.4 1015.6 L973.4 1014.4 L978.5 1013.2 L983.5 1012 L988.5 1010.9 L993.5 1009.8 L998.6 1008.7 L1003.6 1007.6 L1008.6 1006.6 L1013.6 1005.6 L1018.7 1004.6 L1023.7 1003.7 L1028.7 1002.7 L1033.8 1001.8 L1038.8 1001 L1043.8 1000.2 L1048.8 999.3 L1053.9 998.6 L1058.9 997.8 L1063.9 997.1 L1068.9 996.4 L1074 995.8 L1079 995.1 L1084 994.5 L1089.1 994 L1094.1 993.4 L1099.1 992.9 L1104.1 992.4 L1109.2 991.9 L1114.2 991.5 L1119.2 991.1 L1124.2 990.7 L1129.3 990.4 L1134.3 990.1 L1139.3 989.8 L1144.3 989.5 L1149.4 989.3 L1154.4 989.1 L1159.4 988.9 L1164.5 988.8 L1169.5 988.7 L1174.5 988.6 L1179.5 988.5 L1184.6 988.5 L1189.6 988.5 L1194.6 988.5 L1199.6 988.6 L1204.7 988.7 L1209.7 988.8 L1214.7 989 L1219.8 989.1 L1224.8 989.3 L1229.8 989.6 L1234.8 989.8 L1239.9 990.1 L1244.9 990.4 L1249.9 990.8 L1254.9 991.2 L1260 991.6 L1265 992 L1270 992.5 L1275.1 993 L1280.1 993.5 L1285.1 994.1 L1290.1 994.6 L1295.2 995.2 L1300.2 995.9 L1305.2 996.6 L1310.2 997.3 L1315.3 998 L1320.3 998.7 L1325.3 999.5 L1330.3 1000.3 L1335.4 1001.2 L1340.4 1002.1 L1345.4 1003 L1350.5 1003.9 L1355.5 1004.8 L1360.5 1005.8 L1365.5 1006.9 L1370.6 1007.9 L1375.6 1009 L1380.6 1010.1 L1385.6 1011.2 L1390.7 1012.4 L1395.7 1013.6 L1400.7 1014.8 L1405.8 1016.1 L1410.8 1017.3 L1415.8 1018.6 L1420.8 1020 L1425.9 1021.4 L1430.9 1022.7 L1435.9 1024.2 L1440.9 1025.6 L1446 1027.1 L1451 1028.6 L1456 1030.2 L1461.1 1031.8 L1466.1 1033.4 L1471.1 1035 L1476.1 1036.7 L1481.2 1038.3 L1486.2 1040.1 L1491.2 1041.8 L1496.2 1043.6 L1501.3 1045.4 L1506.3 1047.2 L1511.3 1049.1 L1516.3 1051 L1521.4 1052.9 L1526.4 1054.9 L1531.4 1056.9 L1536.5 1058.9 L1541.5 1060.9 L1546.5 1063 L1551.5 1065.1 L1556.6 1067.2 L1561.6 1069.4 L1566.6 1071.6 L1571.6 1073.8 L1576.7 1076.1 L1581.7 1078.3 L1586.7 1080.7 L1591.8 1083 L1596.8 1085.4 L1601.8 1087.8 L1606.8 1090.2 L1611.9 1092.6 L1616.9 1095.1 L1621.9 1097.7 L1626.9 1100.2 L1632 1102.8 L1637 1105.4 L1642 1108 L1647 1110.7 L1652.1 1113.4 L1657.1 1116.1 L1662.1 1118.8 L1667.2 1121.6 L1672.2 1124.4 L1677.2 1127.3 L1682.2 1130.2 L1687.3 1133.1 L1692.3 1136 L1697.3 1139 L1702.3 1141.9 L1707.4 1145 L1712.4 1148 L1717.4 1151.1 L1722.5 1154.2 L1727.5 1157.3 L1732.5 1160.5 L1737.5 1163.7 L1742.6 1166.9 L1747.6 1170.2 L1752.6 1173.5 L1757.6 1176.8 L1762.7 1180.1 L1767.7 1183.5 L1772.7 1186.9 L1777.8 1190.4 L1782.8 1193.8 L1787.8 1197.3 L1792.8 1200.9 L1797.9 1204.4 L1802.9 1208 L1807.9 1211.6 L1812.9 1215.3 L1818 1218.9 L1823 1222.6 L1828 1226.4 L1833 1230.1 L1838.1 1233.9 L1843.1 1237.8 L1848.1 1241.6 L1853.2 1245.5 L1858.2 1249.4 L1863.2 1253.4 L1868.2 1257.3 L1873.3 1261.4 L1878.3 1265.4 L1883.3 1269.5 L1888.3 1273.5 L1893.4 1277.7 L1898.4 1281.8" fill="none" stroke="#202020" stroke-width="5.3" stroke-linejoin="round" stroke-linecap="butt"/>
</g>
<clipPath id="c0"><rect x="327" y="1300" width="80" height="200"/></clipPath>
<g clip-path="url(#c0)">
<rect x="308" y="1345.5" width="37.5" height="86" fill="#000"/>
<circle cx="327" cy="1389" r="25.5" fill="#000"/>
<polygon points="327,1380 357.5,1395 327,1410" fill="#000"/>
<polygon points="297.5,1425 327,1398.5 356.5,1425 327,1451.5" fill="#000"/>
</g>
<polygon points="404.5,1283 431,1262.5 439,1262 450.5,1283" fill="#000"/>
<polygon points="403,1281 461,1281 432,1326" fill="#000"/>
<rect x="414" y="1281" width="35.8" height="107" fill="#000"/>
<polygon points="416,1294.1 465,1322.6 416,1351.1" fill="#000"/>
<polygon points="449,1322 461.5,1335 449,1348" fill="#000"/>
<polygon points="433.5,1345 462,1387.8 405.3,1387.8" fill="#000"/>
<rect x="414.1" y="1392.8" width="31.2" height="4" fill="#000"/>
<polygon points="425,1397 438,1397 431.5,1404" fill="#000"/>
<rect x="749.4" y="251" width="5.2" height="49" fill="#000"/>
<rect x="737.8" y="248.5" width="28.4" height="5" fill="#000"/>
<rect x="737.8" y="276.2" width="28.4" height="5" fill="#000"/>
<rect x="737.8" y="288.4" width="28.4" height="5" fill="#000"/>
<polygon points="738,294.2 787,322.7 738,351.2" fill="#000"/>
<polygon points="722.5,349 752,322.5 781.5,349 752,375.5" fill="#000"/>
<polygon points="721,402.8 770,374.3 770,431.3" fill="#000"/>
<polygon points="723,349 781,349 752,394" fill="#000"/>
<circle cx="752" cy="410" r="21.5" fill="#000"/>
<rect x="737.5" y="433.5" width="29" height="5" fill="#000"/>
<rect x="749.4" y="428" width="5.2" height="51" fill="#000"/>
<rect x="737.8" y="468.2" width="28.4" height="5" fill="#000"/>
<rect x="737.8" y="476.9" width="28.4" height="5" fill="#000"/>
<rect x="749.4" y="562.3" width="5.2" height="32.7" fill="#000"/>
<rect x="737.8" y="559.8" width="28.4" height="5" fill="#000"/>
<polygon points="752,591 782,636 722,636" fill="#000"/>
<rect x="749.4" y="654" width="5.2" height="25" fill="#000"/>
<rect x="737.8" y="676.5" width="28.4" height="5" fill="#000"/>
<path d="M731 1345.5 h38 v36 q0 7 -7 7 h-24 q-7 0 -7 -7 z" fill="#000"/>
<rect x="1173.9" y="163.2" width="5.2" height="45.3" fill="#000"/>
<rect x="1162.3" y="160.7" width="28.4" height="5" fill="#000"/>
<polygon points="1145.5,241 1194.5,212.5 1194.5,269.5" fill="#000"/>
<rect x="1173.9" y="273" width="5.2" height="103" fill="#000"/>
<rect x="1162.3" y="316" width="28.4" height="5" fill="#000"/>
<rect x="1162.3" y="356.7" width="28.4" height="5" fill="#000"/>
<polygon points="1149.5,374 1207.5,374 1178.5,419" fill="#000"/>
<polygon points="1161.5,399.1 1210.5,427.6 1161.5,456.1" fill="#000"/>
<polygon points="1161.5,391 1184.5,391 1184.5,440 1161.5,452" fill="#000"/>
<rect x="1173.9" y="440" width="5.2" height="30" fill="#000"/>
<rect x="1162.3" y="456.8" width="28.4" height="5" fill="#000"/>
<polygon points="1149,494 1178.5,467.5 1208,494 1178.5,520.5" fill="#000"/>
<rect x="1173.9" y="517" width="5.2" height="41.5" fill="#000"/>
<rect x="1162.3" y="556" width="28.4" height="5" fill="#000"/>
<rect x="1173.9" y="738.6" width="5.2" height="27.4" fill="#000"/>
<rect x="1162.3" y="736.1" width="28.4" height="5" fill="#000"/>
<circle cx="1175.5" cy="786.5" r="22.5" fill="#000"/>
<rect x="1173.9" y="814" width="5.2" height="24.5" fill="#000"/>
<rect x="1162.3" y="836" width="28.4" height="5" fill="#000"/>
<rect x="1162.3" y="955.7" width="28.4" height="5" fill="#000"/>
<rect x="1173.9" y="958" width="5.2" height="12" fill="#000"/>
<polygon points="1177.5,966.6 1207.5,1011.6 1147.5,1011.6" fill="#000"/>
<rect x="1173.9" y="1029" width="5.2" height="10.5" fill="#000"/>
<rect x="1162.3" y="1037" width="28.4" height="5" fill="#000"/>
<path d="M1157.5 1345.5 h38 v36 q0 7 -7 7 h-24 q-7 0 -7 -7 z" fill="#000"/>
<rect x="1483.3" y="508.8" width="24.4" height="5" fill="#000"/>
<rect x="1492.9" y="511.3" width="5.2" height="28.7" fill="#000"/>
<polygon points="1477.5,544.3 1526.5,572.8 1477.5,601.3" fill="#000"/>
<rect x="1492.9" y="605.3" width="5.2" height="55.2" fill="#000"/>
<rect x="1483.3" y="629.2" width="24.4" height="8" fill="#000"/>
<polygon points="1465.5,690.5 1514.5,662 1514.5,719" fill="#000"/>
<rect x="1492.9" y="721" width="5.2" height="25.7" fill="#000"/>
<rect x="1483.3" y="744.2" width="24.4" height="5" fill="#000"/>
<rect x="1483.3" y="1060.2" width="24.4" height="4.5" fill="#000"/>
<rect x="1492.9" y="1062" width="5.2" height="13" fill="#000"/>
<polygon points="1465.5,1071.5 1523.5,1071.5 1494.5,1116.5" fill="#000"/>
<circle cx="1494.5" cy="1097" r="21" fill="#000"/>
<polygon points="1494.5,1106 1524.5,1151 1464.5,1151" fill="#000"/>
<rect x="1483.3" y="1168.5" width="24.4" height="5" fill="#000"/>
<rect x="1483.3" y="1185.5" width="24.4" height="5" fill="#000"/>
<polygon points="1467,1215 1496.5,1188.5 1526,1215 1496.5,1241.5" fill="#000"/>
<rect x="1483.3" y="1241" width="24.4" height="5" fill="#000"/>
<path d="M1476.5 1345.5 h38 v36 q0 7 -7 7 h-24 q-7 0 -7 -7 z" fill="#000"/>
<rect x="1906.3" y="304.7" width="28.4" height="5" fill="#000"/>
<rect x="1917.9" y="307.2" width="5.2" height="40.3" fill="#000"/>
<polygon points="1905.5,348.5 1954.5,377 1905.5,405.5" fill="#000"/>
<rect x="1917.9" y="409.5" width="5.2" height="63" fill="#000"/>
<rect x="1906.3" y="436.5" width="28.4" height="5" fill="#000"/>
<rect x="1906.3" y="448.5" width="28.4" height="5" fill="#000"/>
<polygon points="1889,504.7 1938,476.2 1938,533.2" fill="#000"/>
<rect x="1917.9" y="537" width="5.2" height="34.6" fill="#000"/>
<rect x="1906.3" y="569.1" width="28.4" height="5" fill="#000"/>
<rect x="1906.3" y="920" width="28.4" height="5" fill="#000"/>
<rect x="1917.9" y="922.5" width="5.2" height="11" fill="#000"/>
<polygon points="1892.5,949.3 1950.5,949.3 1921.5,994.3" fill="#000"/>
<rect x="1917.9" y="990" width="5.2" height="17.4" fill="#000"/>
<rect x="1906.3" y="1004.9" width="28.4" height="5" fill="#000"/>
<rect x="1906.3" y="1083.2" width="28.4" height="5" fill="#000"/>
<rect x="1917.9" y="1085.7" width="5.2" height="9.3" fill="#000"/>
<polygon points="1891,1118 1920.5,1091.5 1950,1118 1920.5,1144.5" fill="#000"/>
<rect x="1917.9" y="1140" width="5.2" height="11.6" fill="#000"/>
<rect x="1906.3" y="1149.1" width="28.4" height="5" fill="#000"/>
<rect x="1906.3" y="1247.1" width="28.4" height="5" fill="#000"/>
<polygon points="1920.5,1244 1950.5,1292.7 1894.5,1292.7" fill="#000"/>
<rect x="1917.9" y="1290" width="5.2" height="9.4" fill="#000"/>
<rect x="1906.3" y="1296.9" width="28.4" height="5" fill="#000"/>
<circle cx="1922" cy="1353" r="20.5" fill="#000"/>
<rect x="1906.3" y="1333" width="28.4" height="5.4" fill="#000"/>
<path d="M1899 1345.5 h38 v36 q0 7 -7 7 h-24 q-7 0 -7 -7 z" fill="#000"/>
</g>
</svg>
</body>
</html>
